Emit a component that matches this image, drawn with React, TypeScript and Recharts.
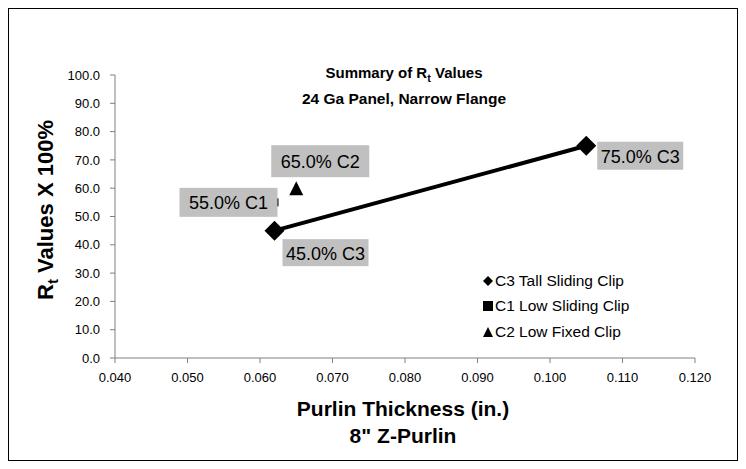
import React from 'react';
import { ScatterChart, Scatter, XAxis, YAxis, LabelList } from 'recharts';

const xTicks = [0.04, 0.05, 0.06, 0.07, 0.08, 0.09, 0.1, 0.11, 0.12];
const yTicks = [0, 10, 20, 30, 40, 50, 60, 70, 80, 90, 100];

const seriesNames = ['C3 Tall Sliding Clip', 'C1 Low Sliding Clip', 'C2 Low Fixed Clip'];

const c3Thickness = [0.062, 0.105];
const c3Rt = [45, 75];
const c3Labels = ['45.0% C3', '75.0% C3'];

const c1Thickness = [0.062];
const c1Rt = [55];
const c1Labels = ['55.0% C1'];

const c2Thickness = [0.065];
const c2Rt = [60];
const c2Labels = ['65.0% C2'];

const toRows = (xs: number[], ys: number[], labels: string[]) =>
  xs.map((x, i) => ({ x, y: ys[i], label: labels[i] }));

const c3Data = toRows(c3Thickness, c3Rt, c3Labels);
const c1Data = toRows(c1Thickness, c1Rt, c1Labels);
const c2Data = toRows(c2Thickness, c2Rt, c2Labels);

// label box: [dx, dy, width, height] from the marker centre (px)
const c3Boxes = [[51, 22, 86, 27], [54, 10, 86, 28]];
const c1Boxes = [[-46, 0, 98, 29]];
const c2Boxes = [[24, -27, 98, 32]];

const FONT = 'Arial, "Liberation Sans", sans-serif';

const Diamond = (props: any) => {
  const { cx, cy } = props;
  const r = 10;
  return <path d={`M${cx},${cy - r}L${cx + r},${cy}L${cx},${cy + r}L${cx - r},${cy}Z`} fill="#000" />;
};

const Square = (props: any) => {
  const { cx, cy } = props;
  return <rect x={cx - 4} y={cy - 4} width={8} height={8} fill="#000" />;
};

const Triangle = (props: any) => {
  const { cx, cy } = props;
  return <path d={`M${cx},${cy - 7}L${cx + 7},${cy + 7}L${cx - 7},${cy + 7}Z`} fill="#000" />;
};

const makeLabel = (boxes: number[][]) => (props: any) => {
  const { x, y, width, height, value, index } = props;
  const [dx, dy, w, h] = boxes[index];
  const cx = x + (width || 0) / 2 + dx;
  const cy = y + (height || 0) / 2 + dy;
  return (
    <g>
      <rect x={cx - w / 2} y={cy - h / 2} width={w} height={h} fill="#c0c0c0" />
      <text x={cx} y={cy + 1} textAnchor="middle" dominantBaseline="central" fontSize={18} fontFamily={FONT} fill="#000">
        {value}
      </text>
    </g>
  );
};

const legendIcons = [
  <path d="M6,1L11,6L6,11L1,6Z" fill="#000" />,
  <rect x={1} y={1} width={10} height={10} fill="#000" />,
  <path d="M6,1L11,11L1,11Z" fill="#000" />,
];

export default function App() {
  return (
    <div style={{ position: 'relative', width: 730, height: 453, border: '1px solid #000', boxSizing: 'border-box', background: '#fff' }}>
      <div style={{ position: 'absolute', left: -1, top: -1, width: 730, height: 453, fontFamily: FONT }}>
        <ScatterChart width={730} height={453} margin={{ top: 67, right: 43, bottom: 73, left: 47 }}>
          <XAxis
            type="number"
            dataKey="x"
            domain={[0.04, 0.12]}
            ticks={xTicks}
            tickFormatter={(v: number) => v.toFixed(3)}
            stroke="#808080"
            tick={{ fill: '#000', fontSize: 13, fontFamily: FONT }}
            tickSize={5}
            tickMargin={10}
            height={30}
            allowDataOverflow
          />
          <YAxis
            type="number"
            dataKey="y"
            domain={[0, 100]}
            ticks={yTicks}
            tickFormatter={(v: number) => v.toFixed(1)}
            stroke="#808080"
            tick={{ fill: '#000', fontSize: 13, fontFamily: FONT }}
            tickSize={5}
            tickMargin={10}
            width={60}
          />
          <Scatter
            name={seriesNames[1]}
            data={c1Data}
            shape={<Square />}
            isAnimationActive={false}
          >
            <LabelList dataKey="label" content={makeLabel(c1Boxes)} />
          </Scatter>
          <Scatter
            name={seriesNames[2]}
            data={c2Data}
            shape={<Triangle />}
            isAnimationActive={false}
          >
            <LabelList dataKey="label" content={makeLabel(c2Boxes)} />
          </Scatter>
          <Scatter
            name={seriesNames[0]}
            data={c3Data}
            shape={<Diamond />}
            line={{ stroke: '#000', strokeWidth: 4 }}
            isAnimationActive={false}
          >
            <LabelList dataKey="label" content={makeLabel(c3Boxes)} />
          </Scatter>
        </ScatterChart>

        <div style={{ position: 'absolute', left: 396, top: 66, transform: 'translate(-50%, -50%)', fontWeight: 'bold', fontSize: 15, whiteSpace: 'nowrap' }}>
          Summary of R<sub style={{ fontSize: 11 }}>t</sub> Values
        </div>
        <div style={{ position: 'absolute', left: 396, top: 91, transform: 'translate(-50%, -50%)', fontWeight: 'bold', fontSize: 15.5, whiteSpace: 'nowrap' }}>
          24 Ga Panel, Narrow Flange
        </div>

        <div style={{ position: 'absolute', left: 395, top: 401, transform: 'translate(-50%, -50%)', fontWeight: 'bold', fontSize: 21, whiteSpace: 'nowrap' }}>
          Purlin Thickness (in.)
        </div>
        <div style={{ position: 'absolute', left: 395, top: 428, transform: 'translate(-50%, -50%)', fontWeight: 'bold', fontSize: 21, whiteSpace: 'nowrap' }}>
          8" Z-Purlin
        </div>

        <div style={{ position: 'absolute', left: 39, top: 202, transform: 'translate(-50%, -50%) rotate(-90deg)', fontWeight: 'bold', fontSize: 22, whiteSpace: 'nowrap' }}>
          R<sub style={{ fontSize: 15 }}>t</sub> Values X 100%
        </div>

        <div style={{ position: 'absolute', left: 474, top: 260, fontSize: 15.5 }}>
          {seriesNames.map((name, i) => (
            <div key={name} style={{ display: 'flex', alignItems: 'center', height: 25.5 }}>
              <svg width={12} height={12} style={{ marginRight: 1 }}>{legendIcons[i]}</svg>
              <span>{name}</span>
            </div>
          ))}
        </div>
      </div>
    </div>
  );
}
